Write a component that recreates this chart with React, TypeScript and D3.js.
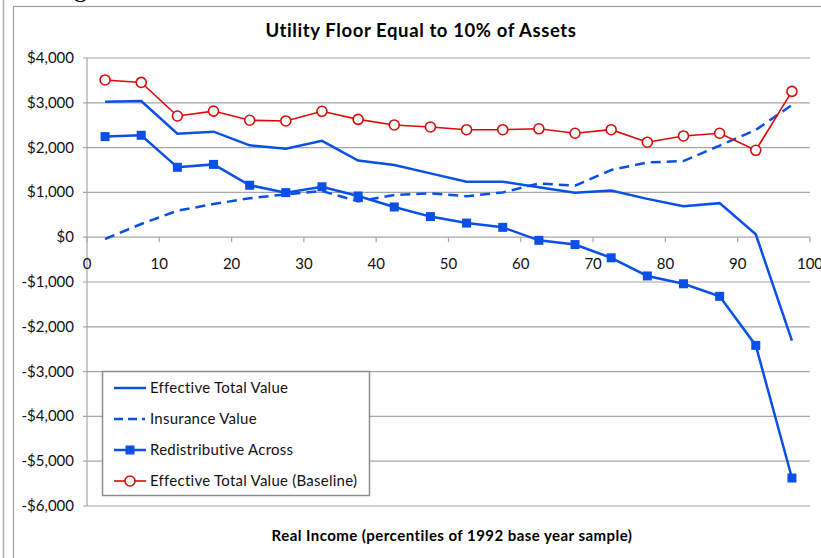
import React, { useEffect, useRef } from 'react';
import * as d3 from 'd3';

const percentiles = [2.5, 7.5, 12.5, 17.5, 22.5, 27.5, 32.5, 37.5, 42.5, 47.5, 52.5, 57.5, 62.5, 67.5, 72.5, 77.5, 82.5, 87.5, 92.5, 97.5];

const effectiveTotal = [3025, 3040, 2310, 2355, 2050, 1975, 2150, 1710, 1610, 1425, 1240, 1240, 1115, 995, 1040, 855, 690, 760, 65, -2310];
const insuranceValue = [-40, 295, 590, 740, 870, 955, 1030, 800, 940, 980, 915, 1000, 1200, 1150, 1500, 1670, 1700, 2045, 2395, 2950];
const redistributive = [2245, 2275, 1560, 1625, 1160, 995, 1125, 920, 675, 460, 315, 220, -70, -165, -460, -865, -1040, -1320, -2415, -5375];
const baseline = [3510, 3455, 2705, 2815, 2610, 2595, 2810, 2630, 2505, 2460, 2400, 2400, 2420, 2320, 2400, 2120, 2260, 2320, 1940, 3255];

const xTicks = [0, 10, 20, 30, 40, 50, 60, 70, 80, 90, 100];
const yTicks = [4000, 3000, 2000, 1000, 0, -1000, -2000, -3000, -4000, -5000, -6000];

const title = 'Utility Floor Equal to 10% of Assets';
const xTitle = 'Real Income (percentiles of 1992 base year sample)';
const legendLabels = ['Effective Total Value', 'Insurance Value', 'Redistributive Across', 'Effective Total Value (Baseline)'];

const BLUE = '#0a50e6';
const RED = '#dc0a0a';
const GRID = '#a6a6a6';
const FONT = 'Lato, "Open Sans", sans-serif';

export default function App() {
  const svgRef = useRef<SVGSVGElement>(null);

  useEffect(() => {
    if (!svgRef.current) return;
    const svg = d3.select(svgRef.current);
    svg.selectAll('*').remove();

    const W = 821;
    const H = 558;
    const margin = { left: 87, right: 11, top: 58, bottom: 52 };

    const x = d3.scaleLinear().domain([0, 100]).range([margin.left, W - margin.right]);
    const y = d3.scaleLinear().domain([-6000, 4000]).range([H - margin.bottom, margin.top]);

    svg.append('rect').attr('width', W).attr('height', H).attr('fill', '#fff');

    // outer frames
    svg.append('line').attr('x1', 3.5).attr('x2', 3.5).attr('y1', 0).attr('y2', H)
      .attr('stroke', '#b0b0b0').attr('stroke-width', 1.5);
    svg.append('rect').attr('x', 13.5).attr('y', 6.5).attr('width', W).attr('height', H)
      .attr('fill', 'none').attr('stroke', '#a0a0a0').attr('stroke-width', 1.2);

    // cut-off glyph from text above
    svg.append('text').attr('x', 74).attr('y', -3).attr('font-family', 'serif')
      .attr('font-size', 26).attr('fill', '#000').text('g');

    // gridlines
    svg.append('g').selectAll('line').data(yTicks).join('line')
      .attr('x1', margin.left - 4).attr('x2', x(100))
      .attr('y1', d => y(d)).attr('y2', d => y(d))
      .attr('stroke', GRID).attr('stroke-width', 1.2);

    // y axis line
    svg.append('line').attr('x1', x(0)).attr('x2', x(0)).attr('y1', y(4000)).attr('y2', y(-6000))
      .attr('stroke', GRID).attr('stroke-width', 1.2);

    // x ticks at zero line
    svg.append('g').selectAll('line').data(xTicks).join('line')
      .attr('x1', d => x(d)).attr('x2', d => x(d))
      .attr('y1', y(0)).attr('y2', y(0) + 5)
      .attr('stroke', GRID).attr('stroke-width', 1.2);

    const fmt = (v: number) => (v < 0 ? '-$' : '$') + d3.format(',')(Math.abs(v));

    svg.append('g').selectAll('text').data(yTicks).join('text')
      .attr('x', margin.left - 13).attr('y', d => y(d) + 5)
      .attr('text-anchor', 'end').attr('font-family', FONT).attr('font-size', 15)
      .attr('fill', '#111').text(d => fmt(d));

    svg.append('g').selectAll('text').data(xTicks).join('text')
      .attr('x', d => x(d)).attr('y', y(0) + 32)
      .attr('text-anchor', 'middle').attr('font-family', FONT).attr('font-size', 15)
      .attr('fill', '#111').text(d => d);

    // titles
    svg.append('text').attr('x', 421).attr('y', 37).attr('text-anchor', 'middle')
      .attr('font-family', FONT).attr('font-weight', 'bold').attr('font-size', 18.5)
      .attr('letter-spacing', 0.6).attr('fill', '#000').text(title);
    svg.append('text').attr('x', 452).attr('y', 541).attr('text-anchor', 'middle')
      .attr('font-family', FONT).attr('font-weight', 'bold').attr('font-size', 15)
      .attr('letter-spacing', 0.45).attr('fill', '#000').text(xTitle);

    const line = d3.line<number>().x((_, i) => x(percentiles[i])).y(d => y(d));

    svg.append('path').datum(insuranceValue).attr('d', line).attr('fill', 'none')
      .attr('stroke', BLUE).attr('stroke-width', 2.5).attr('stroke-dasharray', '10,6');
    svg.append('path').datum(effectiveTotal).attr('d', line).attr('fill', 'none')
      .attr('stroke', BLUE).attr('stroke-width', 2.5);
    svg.append('path').datum(redistributive).attr('d', line).attr('fill', 'none')
      .attr('stroke', BLUE).attr('stroke-width', 2.5);
    svg.append('g').selectAll('rect').data(redistributive).join('rect')
      .attr('x', (_, i) => x(percentiles[i]) - 4.5).attr('y', d => y(d) - 4.5)
      .attr('width', 9).attr('height', 9).attr('fill', BLUE);

    svg.append('path').datum(baseline).attr('d', line).attr('fill', 'none')
      .attr('stroke', RED).attr('stroke-width', 1.6);
    svg.append('g').selectAll('circle').data(baseline).join('circle')
      .attr('cx', (_, i) => x(percentiles[i])).attr('cy', d => y(d)).attr('r', 5)
      .attr('fill', '#fff').attr('stroke', RED).attr('stroke-width', 1.6);

    // legend
    const lg = svg.append('g');
    lg.append('rect').attr('x', 102.5).attr('y', 371.5).attr('width', 267).attr('height', 124)
      .attr('fill', '#fff').attr('stroke', '#8c8c8c').attr('stroke-width', 1.5);
    const rowY = [388, 419, 450, 481];
    legendLabels.forEach((label, i) => {
      const ly = rowY[i];
      const l = lg.append('line').attr('x1', 114).attr('x2', 146).attr('y1', ly).attr('y2', ly)
        .attr('stroke', i === 3 ? RED : BLUE).attr('stroke-width', i === 3 ? 1.6 : 2.5);
      if (i === 1) l.attr('stroke-dasharray', '9,5').attr('x1', 114).attr('x2', 145);
      if (i === 2) lg.append('rect').attr('x', 125.5).attr('y', ly - 4.5).attr('width', 9).attr('height', 9).attr('fill', BLUE);
      if (i === 3) lg.append('circle').attr('cx', 130).attr('cy', ly).attr('r', 5)
        .attr('fill', '#fff').attr('stroke', RED).attr('stroke-width', 1.6);
      lg.append('text').attr('x', 150).attr('y', ly + 5).attr('font-family', FONT)
        .attr('font-size', 15).attr('letter-spacing', 0.25).attr('fill', '#111').text(label);
    });
  }, []);

  return (
    <svg ref={svgRef} width={821} height={558} style={{ position: 'absolute', left: 0, top: 0 }} />
  );
}
